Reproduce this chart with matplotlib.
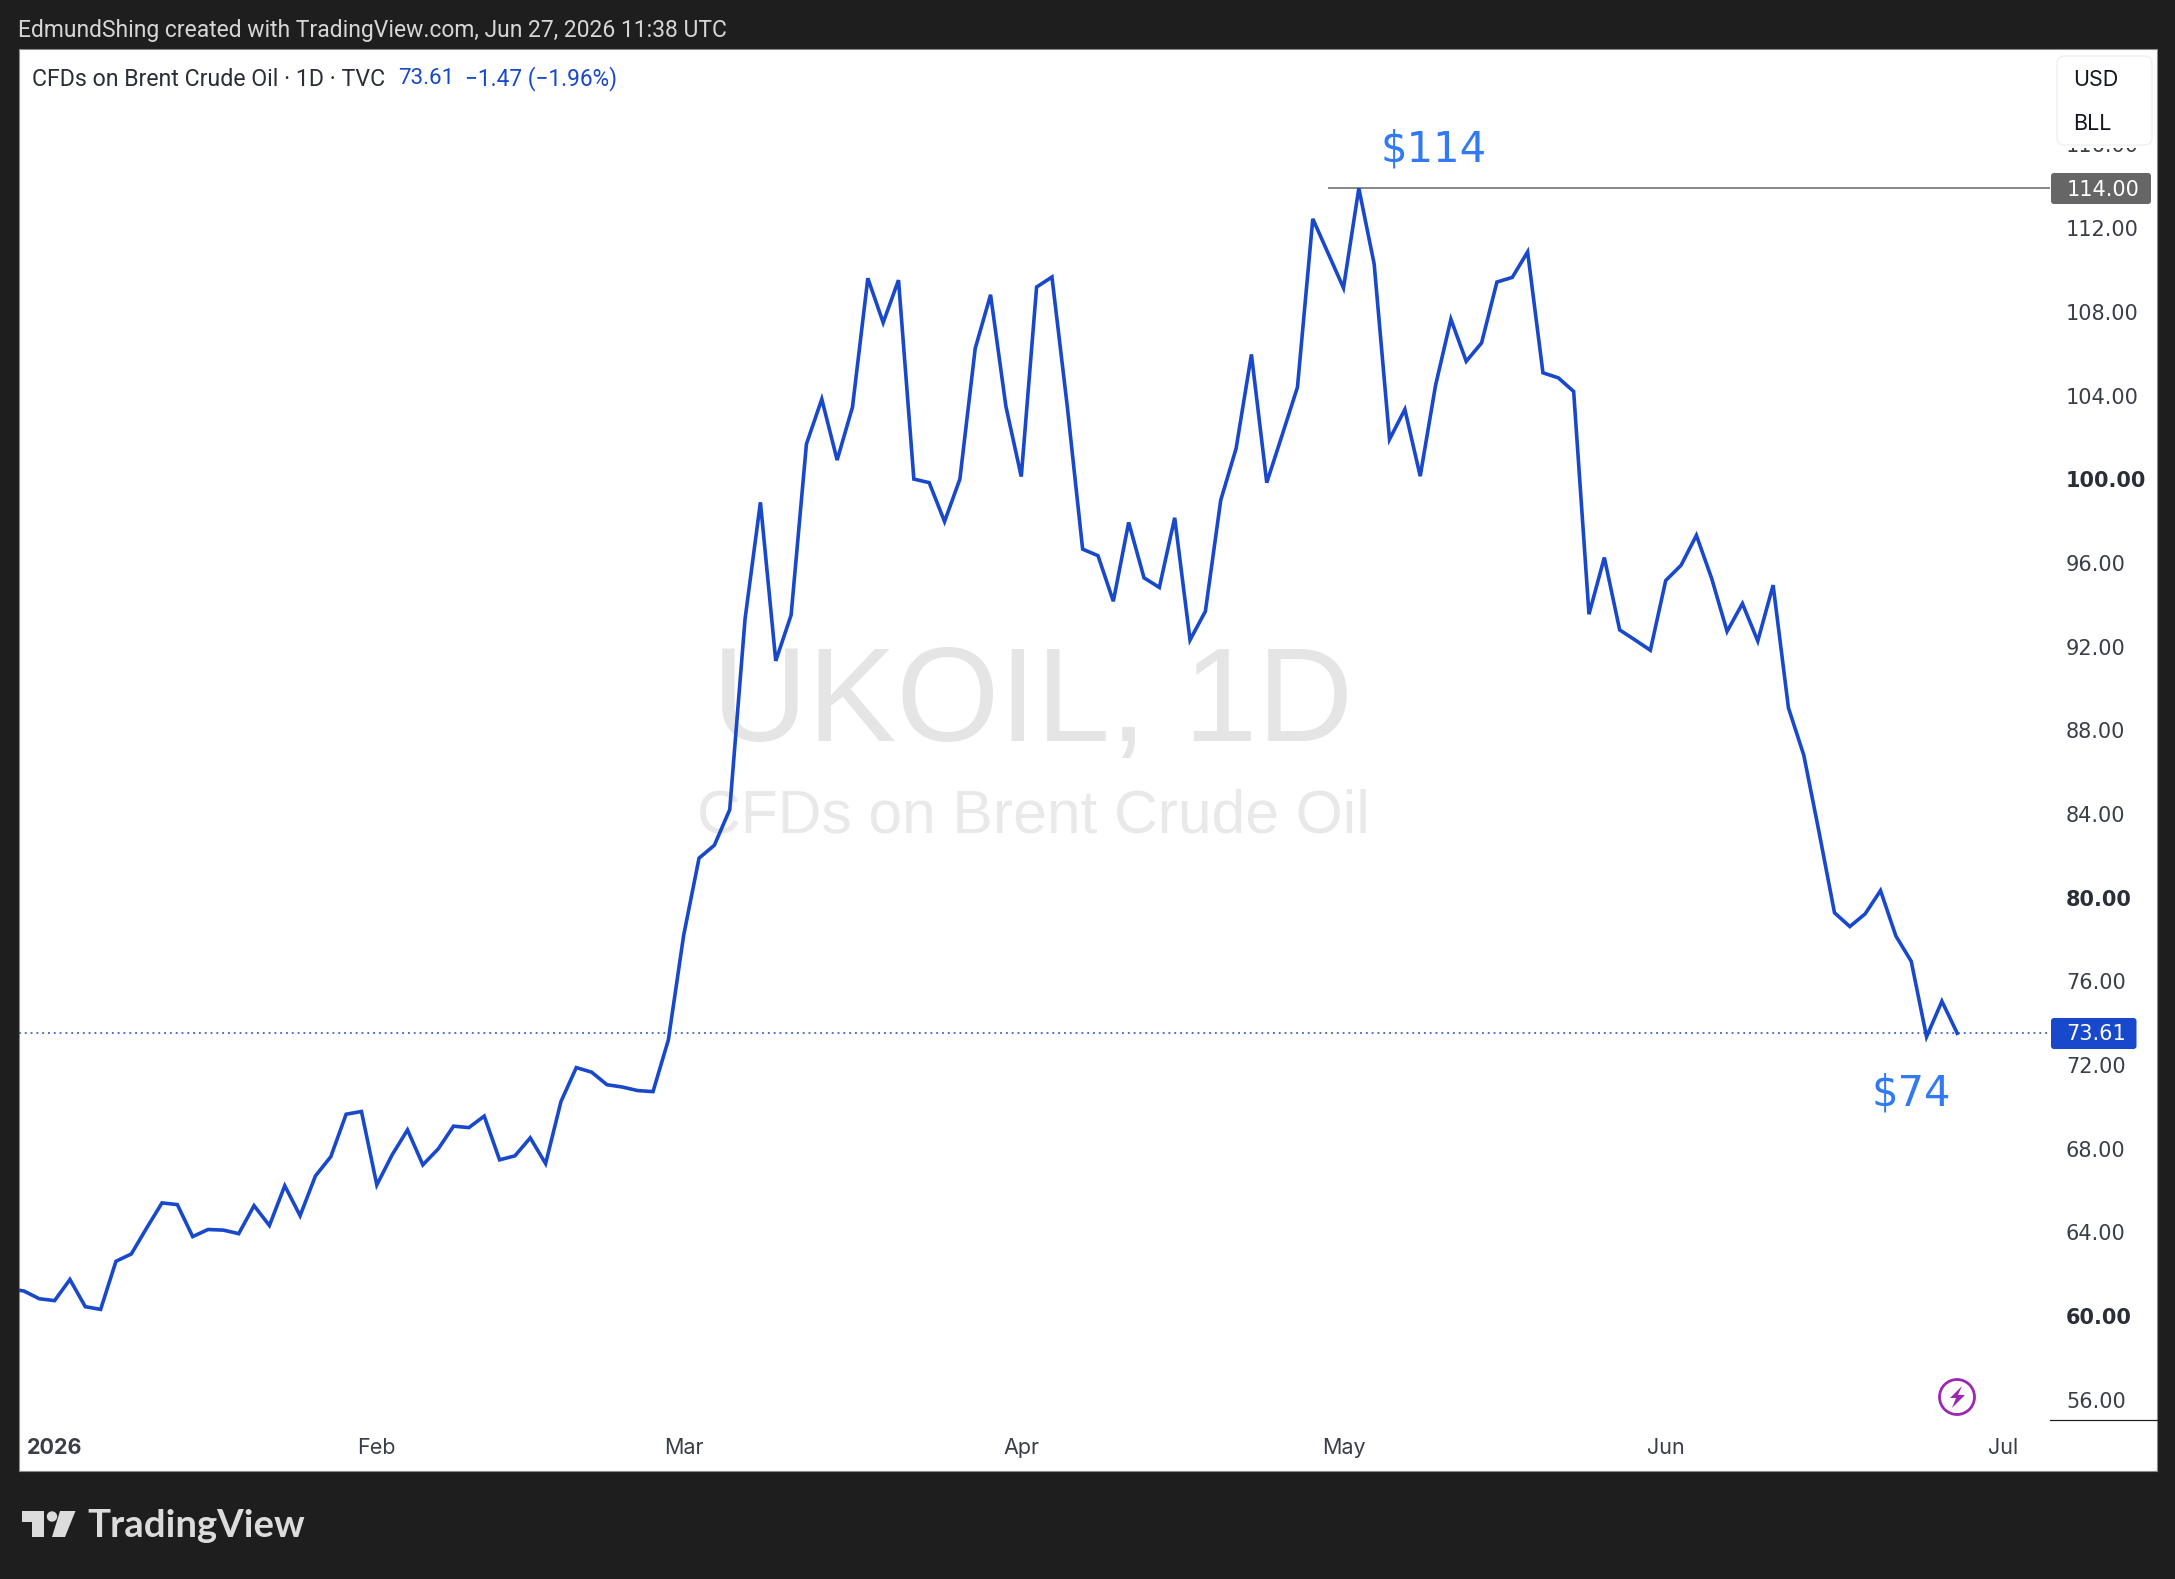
import numpy as np
import matplotlib
matplotlib.use("Agg")
import matplotlib.pyplot as plt
from matplotlib.lines import Line2D
from matplotlib.patches import Circle, FancyBboxPatch, Polygon, Rectangle
from matplotlib.transforms import Affine2D

W, H = 2175, 1579

# Daily closes of Brent, session by session; the first one sits just left of the pane.
jan_closes = [61.40, 61.29, 60.92, 60.83, 61.84, 60.54, 60.41, 62.71, 63.06, 64.30, 65.50,
              65.42, 63.89, 64.23, 64.20, 64.03, 65.37, 64.42, 66.32, 64.89, 66.79, 67.71,
              69.74, 69.87]
feb_closes = [66.36, 67.80, 68.99, 67.32, 68.08, 69.17, 69.10, 69.65, 67.56, 67.75, 68.61,
              67.38, 70.34, 71.97, 71.75, 71.15, 71.04, 70.87, 70.82, 73.29]
mar_closes = [78.30, 81.98, 82.60, 84.30, 93.42, 98.99, 91.41, 93.60, 101.78, 103.92, 101.01,
              103.54, 109.70, 107.58, 109.61, 100.10, 99.93, 98.07, 100.10, 106.35, 108.91,
              103.57]
apr_closes = [100.22, 109.28, 109.76, 103.57, 96.75, 96.44, 94.26, 98.03, 95.38, 94.92, 98.25,
              92.41, 93.78, 99.09, 101.56, 106.06, 99.93, 102.20, 104.49, 112.54, 110.89]
may_closes = [109.24, 114.00, 110.38, 102.00, 103.43, 100.24, 104.58, 107.74, 105.73, 106.61,
              109.52, 109.74, 110.96, 105.18, 104.94, 104.29, 93.64, 96.35, 92.89, 92.41, 91.92]
jun_closes = [95.25, 95.98, 97.41, 95.34, 92.82, 94.15, 92.36, 95.03, 89.16, 86.90, 83.20,
              79.37, 78.71, 79.32, 80.43, 78.26, 77.05, 73.44, 75.14, 73.61]
closes = jan_closes + feb_closes + mar_closes + apr_closes + may_closes + jun_closes

price_ticks = [56, 60, 64, 68, 72, 76, 80, 84, 88, 92, 96, 100, 104, 108, 112, 116]
bold_prices = [60, 80, 100]
month_labels = ["2026", "Feb", "Mar", "Apr", "May", "Jun", "Jul"]
month_sessions = [2, 23, 43, 65, 86, 107, 129]
last_price = 73.61
peak_price = 114.00

BG = "#1e1e1e"
BLUE = "#1848cc"
NOTE_BLUE = "#3179f5"
AXIS_TEXT = "#3a3e49"
UI_FONT = ["Inter", "DejaVu Sans"]
NUM_FONT = "DejaVu Sans"

fig = plt.figure(figsize=(W / 100, H / 100), dpi=100, facecolor=BG)
# Screen-style coordinates for the chrome around the chart: pixels, y pointing down.
px = Affine2D().scale(1 / W, -1 / H).translate(0, 1) + fig.transFigure


def label(x, y, s, **kw):
    kw.setdefault("va", "center")
    kw.setdefault("family", UI_FONT)
    return fig.text(x, y, s, transform=px, **kw)


fig.add_artist(Rectangle((18.5, 49), 2157 - 18.5, 1470.5 - 49, transform=px,
                         facecolor="white", edgecolor="#8a8a8a", linewidth=0.8, zorder=-1))

# Price pane
left, right, top, bottom = 19, 2050, 50, 1420
ax = fig.add_axes([left / W, 1 - bottom / H, (right - left) / W, (bottom - top) / H])
ax.patch.set_alpha(0)
session0_px, session_px = 23.9, 15.344
ax.set_xlim((left - session0_px) / session_px, (right - session0_px) / session_px)
price_px = 20.92
ax.set_ylim(peak_price - (bottom - 188.3) / price_px, peak_price + (188.3 - top) / price_px)
for s in ax.spines.values():
    s.set_visible(False)

sessions = np.arange(len(closes)) - 1
ax.plot(sessions, closes, color=BLUE, lw=2.6, solid_joinstyle="miter", zorder=3)
ax.axhline(last_price, color=BLUE, lw=1.1, dashes=(1.2, 2.6), zorder=2)
ax.hlines(peak_price, 85, ax.get_xlim()[1], color="#666666", lw=1.1, zorder=2)

ax.yaxis.tick_right()
ax.set_yticks(price_ticks)
ax.set_yticklabels([f"{p:.2f}" for p in price_ticks], family=NUM_FONT, fontsize=15, color=AXIS_TEXT)
for tick, p in zip(ax.get_yticklabels(), price_ticks):
    tick.set_verticalalignment("center")
    if p in bold_prices:
        tick.set_fontweight("bold")
        tick.set_color("#2a2e39")
ax.tick_params(axis="y", length=0, pad=11.5)
ax.set_xticks(month_sessions)
ax.set_xticklabels(month_labels, family=UI_FONT, fontsize=15.5, color=AXIS_TEXT)
ax.get_xticklabels()[0].set_fontweight("bold")
ax.tick_params(axis="x", length=0, pad=13)

# Symbol watermark behind the line
label(1033, 706, "UKOIL, 1D", family="Liberation Sans", fontsize=95.5, color="#e5e5e5", ha="center", zorder=-0.5)
label(1033, 817, "CFDs on Brent Crude Oil", family="Liberation Sans", fontsize=43.6, color="#e9e9e9", ha="center", zorder=-0.5)

# Bottom edge of the price scale
fig.add_artist(Line2D([2050, 2157], [1420, 1420], transform=px, color="#222222", lw=0.9))

# Peak and last-price tags on the scale
fig.add_artist(FancyBboxPatch((2051, 173), 100, 31, boxstyle="round,pad=0,rounding_size=3",
                              transform=px, facecolor="#666666", edgecolor="none", zorder=4))
label(2067, 190.5, f"{peak_price:.2f}", family=NUM_FONT, fontsize=15, color="white", zorder=5)
fig.add_artist(FancyBboxPatch((2051, 1018), 85.5, 31, boxstyle="round,pad=0,rounding_size=3",
                              transform=px, facecolor=BLUE, edgecolor="none", zorder=4))
label(2066, 1034.5, f"{last_price:.2f}", family=NUM_FONT, fontsize=15, color="white", zorder=5)

# Currency and unit box, which hides most of the top price label
fig.add_artist(Rectangle((2057, 140), 95, 8, transform=px, facecolor="white", edgecolor="none", zorder=3.5))
fig.add_artist(FancyBboxPatch((2057, 56), 95, 89, boxstyle="round,pad=0,rounding_size=8",
                              transform=px, facecolor="white", edgecolor="#f0f0f0", lw=1, zorder=4))
label(2073.5, 79.5, "USD", fontsize=15.5, color="#131722", zorder=5)
label(2073.5, 123.5, "BLL", fontsize=15.5, color="#131722", zorder=5)

# Price call-outs
label(1434, 149, "$114", family=NUM_FONT, fontsize=30, color=NOTE_BLUE, ha="center")
label(1911, 1094, "$74", family=NUM_FONT, fontsize=30, color=NOTE_BLUE, ha="center")

# Legend row and header
label(18, 30, "EdmundShing created with TradingView.com, Jun 27, 2026 11:38 UTC",
      family="Roboto", fontsize=16.45, color="#d6d6d6")
label(32, 79, "CFDs on Brent Crude Oil · 1D · TVC", family="Roboto", fontsize=16.7, color="#2a2e39")
label(398, 79, f"{last_price:.2f}", family="Roboto", fontsize=16, color=BLUE)
label(465, 79, "−1.47 (−1.96%)", family="Roboto", fontsize=16.3, color=BLUE)

# Data-event badge
fig.add_artist(Circle((1957, 1397), 17.5, transform=px, facecolor="white", edgecolor="#9c27b0", lw=2, zorder=4))
fig.add_artist(Polygon([(1962, 1386), (1950, 1398), (1956, 1398), (1952, 1408),
                        (1965, 1395), (1958, 1395)], closed=True, transform=px,
                       facecolor="#9c27b0", edgecolor="none", zorder=5))

# Footer wordmark
logo = "#dcdcdc"
fig.add_artist(Polygon([(22, 1511), (44, 1511), (44, 1537), (32, 1537), (32, 1522), (22, 1522)],
                       closed=True, transform=px, facecolor=logo, edgecolor="none"))
fig.add_artist(Circle((52, 1516.5), 5.2, transform=px, facecolor=logo, edgecolor="none"))
fig.add_artist(Polygon([(60, 1511), (75.5, 1511), (65, 1537), (52, 1537)],
                       closed=True, transform=px, facecolor=logo, edgecolor="none"))
label(87, 1537, "TradingView", family="Lato", fontweight="bold", fontsize=27.5, color=logo, va="baseline")

fig.savefig("out.png", dpi=100, facecolor=BG)
